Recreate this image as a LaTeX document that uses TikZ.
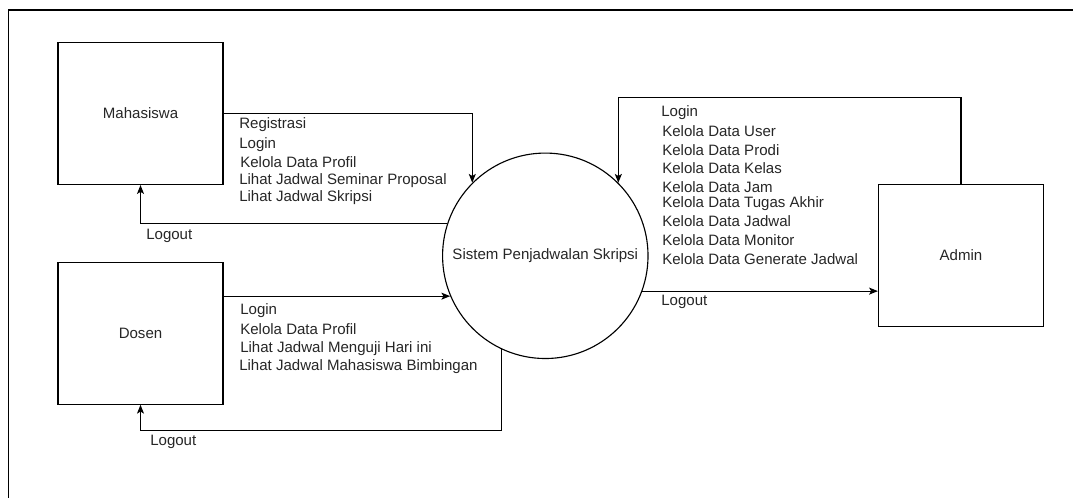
\documentclass[tikz,border=0pt]{standalone}
\usepackage{fontspec}
\setmainfont{Liberation Sans}
\usetikzlibrary{arrows.meta,calc}

\begin{document}
\begin{tikzpicture}[x=0.025cm,y=-0.025cm,
  every node/.style={font=\fontsize{10.7}{12}\selectfont,text=black!85},
  entity/.style={draw,line width=0.8pt,minimum width=4.125cm,minimum height=3.55cm},
  proc/.style={draw,circle,line width=0.8pt,minimum size=5.135cm,inner sep=0pt},
  flow/.style={line width=0.8pt,-{Stealth[length=6.3pt,width=5pt,inset=1.5pt]}},
  lbl/.style={anchor=base west,inner sep=0pt}]

\useasboundingbox (0,0) rectangle (1073,498);
\draw[line width=1pt] (8.5,498) -- (8.5,10) -- (1073,10);

\node[entity] (mhs) at (140.5,113.5) {Mahasiswa};
\node[entity] (dsn) at (140.5,333.2) {Dosen};
\node[entity] (adm) at (961,255.5) {Admin};
\node[proc] (sis) at (545.3,255.8) {Sistem Penjadwalan Skripsi};

\draw[flow] (mhs.east) -| (sis.135);
\draw[flow] (sis.162) -| (mhs.south);
\draw[flow] (sis.203.5 -| dsn.east) -- (sis.203.5);
\draw[flow] (sis.245.5) |- ($(dsn.south)+(0,25.7)$) -- (dsn.south);
\draw[flow] (adm.north) -- ++(0,-86) -| (sis.45);
\draw[flow] (sis.-20) -- (sis.-20 -| adm.west);

\node[lbl] (m1) at (239,128.5) {Registrasi};
\node[lbl] (m2) at (239,148.5) {Login};
\node[lbl] (m3) at (240,167.5) {Kelola Data Profil};
\node[lbl] (m4) at (239,185) {Lihat Jadwal Seminar Proposal};
\node[lbl] (m5) at (239,201.7) {Lihat Jadwal Skripsi};
\node[lbl] (m6) at (146,240) {Logout};

\node[lbl] (d1) at (240,315) {Login};
\node[lbl] (d2) at (240,335) {Kelola Data Profil};
\node[lbl] (d3) at (240,352.7) {Lihat Jadwal Menguji Hari ini};
\node[lbl] (d4) at (239,370) {Lihat Jadwal Mahasiswa Bimbingan};
\node[lbl] (d5) at (150,445) {Logout};

\node[lbl] (a1) at (661,116.5) {Login};
\node[lbl] (a2) at (662,136.7) {Kelola Data User};
\node[lbl] (a3) at (662,155.7) {Kelola Data Prodi};
\node[lbl] (a4) at (662,173.3) {Kelola Data Kelas};
\node[lbl] (a5) at (662,192.3) {Kelola Data Jam};
\node[lbl] (a6) at (662,207.3) {Kelola Data Tugas Akhir};
\node[lbl] (a7) at (662,226.7) {Kelola Data Jadwal};
\node[lbl] (a8) at (662,246) {Kelola Data Monitor};
\node[lbl] (a9) at (662,265) {Kelola Data Generate Jadwal};
\node[lbl] (a10) at (661,305.7) {Logout};
\end{tikzpicture}
\end{document}
